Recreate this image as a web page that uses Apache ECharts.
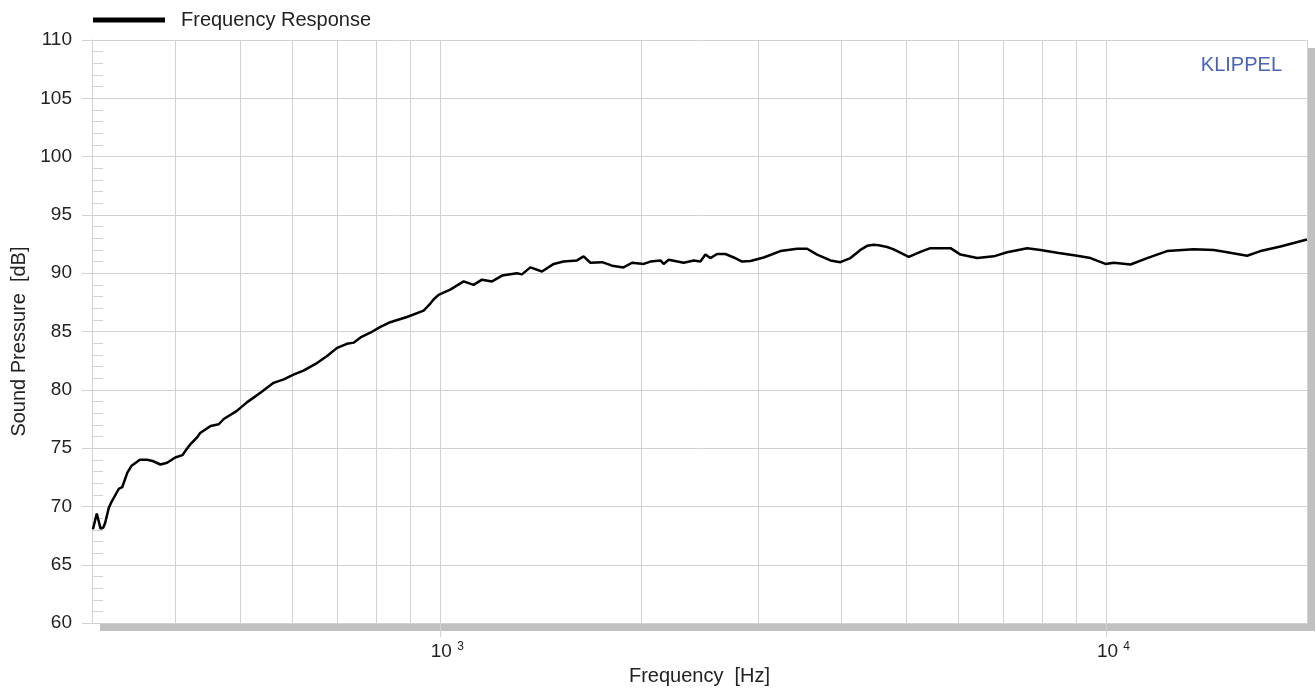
<!DOCTYPE html>
<html>
<head>
<meta charset="utf-8">
<script src="https://cdn.jsdelivr.net/npm/echarts@6/dist/echarts.min.js"></script>
<style>
html,body{margin:0;padding:0;background:#fff;}
#chart{width:1316px;height:691px;}
</style>
</head>
<body>
<div id="chart"></div>
<script>
// Frequency response data (Hz, dB)
var freqHz = [301,305,309,312,314,318,321,329,333,339,344,354,363,370,380,389,400,410,416,421,431,436,452,465,473,495,513,537,562,582,602,623,653,676,700,724,741,759,785,813,841,891,944,966,977,994,1035,1084,1122,1155,1196,1238,1303,1326,1365,1421,1480,1531,1604,1641,1680,1749,1811,1884,1940,2020,2067,2140,2164,2202,2319,2401,2457,2500,2543,2603,2679,2757,2838,2921,3058,3240,3432,3553,3678,3851,3986,4127,4272,4372,4473,4551,4685,4793,5049,5289,5442,5833,6038,6396,6773,7094,7602,7960,8433,9036,9462,9966,10260,10870,11510,12330,13520,14490,15180,16260,17030,18250,20000];
var splDb = [68.05,69.4,68.1,68.2,68.6,69.9,70.4,71.5,71.65,72.9,73.5,74.0,74.0,73.9,73.6,73.75,74.2,74.4,74.9,75.3,75.9,76.3,76.9,77.05,77.5,78.2,78.95,79.75,80.6,80.9,81.3,81.65,82.3,82.9,83.6,83.95,84.05,84.5,84.9,85.4,85.8,86.25,86.8,87.4,87.75,88.15,88.6,89.3,89.0,89.45,89.3,89.8,90.0,89.9,90.5,90.15,90.8,91.0,91.1,91.45,90.9,90.95,90.65,90.5,90.9,90.8,91.0,91.1,90.8,91.15,90.9,91.1,91.0,91.6,91.3,91.65,91.65,91.35,91.0,91.05,91.35,91.9,92.1,92.1,91.6,91.1,90.95,91.3,92.0,92.35,92.45,92.4,92.25,92.05,91.4,91.9,92.15,92.15,91.6,91.3,91.45,91.8,92.15,92.0,91.75,91.5,91.3,90.8,90.9,90.75,91.3,91.9,92.05,92.0,91.8,91.5,91.9,92.3,92.9];
// Vertical grid frequencies
var gridFreqs = [400,500,600,700,800,900,1000,2000,3000,4000,5000,6000,7000,8000,9000,10000,20000];
var xLabelValues = [1000,10000];
var seriesName = 'Frequency Response';

var FONT = "'Liberation Sans', Arial, sans-serif";
var GRID_C = '#d2d2d2';
var TXT = '#222';

var data = freqHz.map(function(f,i){return [f, splDb[i]];});

var chart = echarts.init(document.getElementById('chart'));
chart.setOption({
  animation: false,
  backgroundColor: '#fff',
  textStyle: {fontFamily: FONT},
  grid: {
    left: 92, right: 9, top: 40, bottom: 67,
    show: true, backgroundColor: '#fff', borderWidth: 0, borderColor: 'transparent',
    shadowColor: '#c0c0c0', shadowOffsetX: 8, shadowOffsetY: 8, shadowBlur: 0
  },
  legend: {
    data: [seriesName], left: 93, top: 10, padding: 0,
    icon: 'rect', itemWidth: 72, itemHeight: 5,
    itemStyle: {color: '#000'},
    textStyle: {fontFamily: FONT, fontSize: 20, color: TXT, padding: [0,0,0,11]}
  },
  graphic: [{
    type: 'text', right: 34, top: 55,
    style: {text: 'KLIPPEL', fill: '#4a63b5', font: '20px ' + FONT}
  }],
  xAxis: {
    type: 'log', logBase: 10, min: 300, max: 20000,
    name: 'Frequency  [Hz]', nameLocation: 'middle', nameGap: 40,
    nameTextStyle: {fontFamily: FONT, fontSize: 20, color: TXT},
    axisLine: {show: true, lineStyle: {color: GRID_C}},
    axisTick: {show: true, length: 14, lineStyle: {color: GRID_C}, customValues: xLabelValues},
    splitLine: {show: false},
    axisLabel: {
      customValues: xLabelValues, margin: 18, color: TXT, fontFamily: FONT, fontSize: 19,
      padding: [0,0,0,14],
      formatter: function(v){ return '10 {s|' + Math.round(Math.log10(v)) + '}'; },
      rich: {s: {fontSize: 12, color: TXT, fontFamily: FONT, padding: [0,0,9,0]}}
    }
  },
  yAxis: [{
    type: 'value', min: 60, max: 110, interval: 5, position: 'left',
    name: 'Sound Pressure  [dB]', nameLocation: 'middle', nameGap: 62,
    nameTextStyle: {fontFamily: FONT, fontSize: 20, color: TXT, padding: [0,20,0,0]},
    axisLine: {show: true, lineStyle: {color: GRID_C}},
    axisTick: {show: true, length: 10, lineStyle: {color: GRID_C}},
    axisLabel: {margin: 20, color: TXT, fontFamily: FONT, fontSize: 19},
    splitLine: {show: true, lineStyle: {color: GRID_C, width: 1}}
  }, {
    type: 'value', min: 60, max: 110, interval: 1, position: 'left',
    axisLine: {show: false},
    axisTick: {show: true, inside: true, length: 11, lineStyle: {color: GRID_C}},
    axisLabel: {show: false},
    splitLine: {show: false}
  }],
  series: [{
    name: seriesName, type: 'line', data: data, yAxisIndex: 0,
    showSymbol: false, symbol: 'none', z: 3,
    lineStyle: {color: '#000', width: 2.5},
    itemStyle: {color: '#000'},
    markLine: {
      silent: true, z: 1, symbol: 'none', animation: false,
      label: {show: false},
      lineStyle: {color: GRID_C, type: 'solid', width: 1},
      emphasis: {disabled: true},
      data: gridFreqs.map(function(f){ return {xAxis: f}; })
    }
  }]
});
</script>
</body>
</html>
